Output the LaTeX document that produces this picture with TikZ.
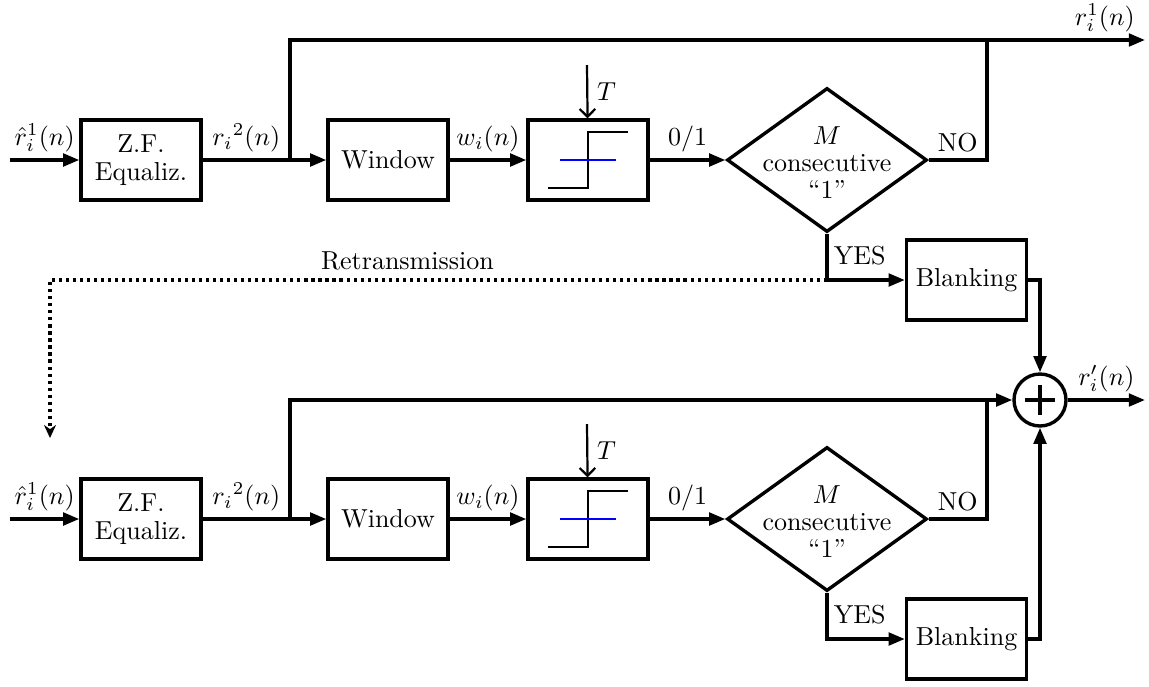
\documentclass[tikz,border=0pt]{standalone}
\usetikzlibrary{arrows.meta,shapes.geometric,calc}
\begin{document}
\begin{tikzpicture}[x=0.3846pt,y=-0.3846pt,
  every node/.style={font=\fontsize{10}{10.5}\selectfont},
  lab/.style={inner sep=2.5pt},
  blk/.style={draw,line width=1.3pt,minimum width=46.15pt,minimum height=30.77pt,inner sep=0pt,align=center},
  dec/.style={draw,diamond,line width=1.3pt,minimum width=76.9pt,minimum height=55.4pt,inner sep=0pt},
  wire/.style={line width=1.3pt},
  sig/.style={line width=1.3pt,-{Triangle[length=6.2pt,width=4.8pt]}},
  tarrow/.style={line width=0.85pt,-{Straight Barb[length=3pt,width=6pt]}},
  stepline/.style={line width=0.8pt},
  retr/.style={line width=1.3pt,dash pattern=on 1.2pt off 1.5pt,-{Stealth[length=5pt,width=4.6pt,inset=1.6pt]}}]
\useasboundingbox (0,0) rectangle (1149,686);

\foreach \r/\o in {a/0,b/359}{
  \node[blk] (zf\r) at (141,160+\o) {Z.F.\\Equaliz.};
  \node[blk] (win\r) at (388,160+\o) {Window};
  \node[blk] (thr\r) at (588,160+\o) {};
  \node[dec,label={[align=center,yshift=-1pt]center:$M$\\consecutive\\``1''}] (dec\r) at (827,160+\o) {};
  \node[blk] (blank\r) at (966.5,280+\o) {Blanking};
  \coordinate (in\r) at (10,160+\o);
  \coordinate (j\r) at (290,160+\o);
  \coordinate (tin\r) at (587,65+\o);
  \coordinate (no\r) at (987,160+\o);
  \draw[sig] (in\r) -- node[above,lab]{$\hat r_i^1(n)$} (zf\r);
  \draw[wire] (zf\r) -- node[above,lab]{$r_i{}^2(n)$} (j\r);
  \draw[sig] (j\r) -- (win\r);
  \draw[sig] (win\r) -- node[above,lab]{$w_i(n)$} (thr\r);
  \draw[sig] (thr\r) -- node[above,lab]{$0/1$} (dec\r);
  \draw[tarrow] (tin\r) -- node[right]{$T$} (thr\r);
  \draw[stepline] ($(thr\r)+(-40,28)$) -- ++(40,0) -- ++(0,-56) -- ++(40,0);
  \draw[stepline,blue] ($(thr\r)+(-28,0)$) -- ++(56,0);
  \draw[wire] (dec\r.east) -- node[above,lab]{NO} (no\r) -- ++(0,-120);
  \draw[sig] (dec\r.south) |- node[pos=0.24,right,inner sep=2pt]{YES} (blank\r.west);
}

\node[circle,draw,line width=1.3pt,minimum size=20pt,inner sep=0pt] (sum) at (1040,400) {};
\draw[line width=1.4pt] ($(sum.center)+(-15,0)$) -- ($(sum.center)+(15,0)$);
\draw[line width=1.4pt] ($(sum.center)+(0,-15)$) -- ($(sum.center)+(0,15)$);

\coordinate (topa) at (290,40);
\coordinate (outa) at (1145,40);
\coordinate (outb) at (1145,400);
\coordinate (yc) at (827,280);
\coordinate (rdown) at (50,438);

\draw[sig] (ja) -- (topa) -- node[pos=0.953,above,lab]{$r_i^1(n)$} (outa);
\draw[sig] (jb) |- (sum.west);
\draw[sig] (blanka.east) -| (sum.north);
\draw[sig] (blankb.east) -| (sum.south);
\draw[sig] (sum.east) -- node[above,lab]{$r'_i(n)$} (outb);
\draw[retr] (yc) -| node[pos=0.27,above]{Retransmission} (rdown);
\end{tikzpicture}
\end{document}
